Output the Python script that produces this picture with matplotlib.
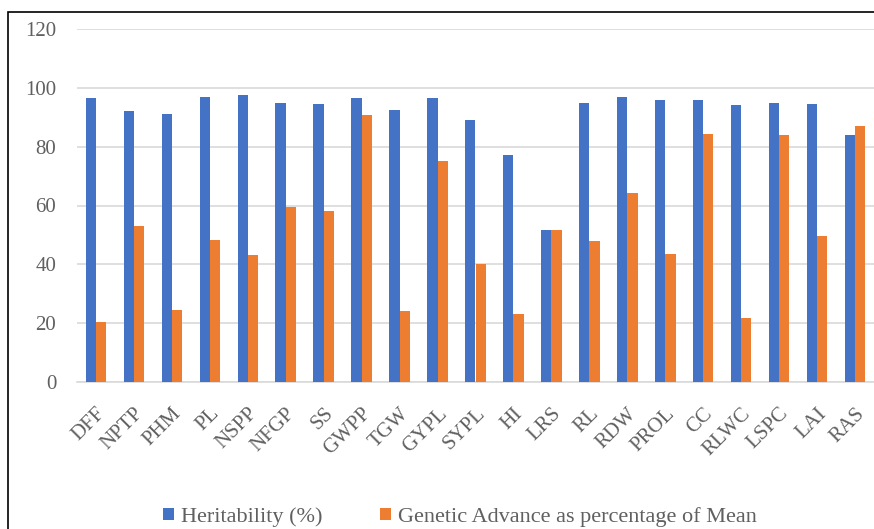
import matplotlib
matplotlib.use("Agg")
import matplotlib.pyplot as plt
import numpy as np
from matplotlib.patches import Rectangle

categories = ["DFF", "NPTP", "PHM", "PL", "NSPP", "NFGP", "SS", "GWPP", "TGW", "GYPL",
              "SYPL", "HI", "LRS", "RL", "RDW", "PROL", "CC", "RLWC", "LSPC", "LAI", "RAS"]
heritability = [96.5, 92, 91, 97, 97.5, 95, 94.5, 96.5, 92.5, 96.5,
                89, 77, 51.8, 95, 97, 96, 96, 94, 95, 94.5, 84]
genetic_advance = [20.4, 53, 24.5, 48.4, 43.3, 59.6, 58, 90.7, 24.2, 75,
                   40.2, 23.2, 51.8, 47.8, 64.4, 43.6, 84.2, 21.8, 83.9, 49.8, 87]
yticks = [0, 20, 40, 60, 80, 100, 120]

blue = "#4472C4"
orange = "#ED7D31"
serif = ["Liberation Serif", "DejaVu Serif"]
txt = "#606060"

W, H = 874, 529
fig = plt.figure(figsize=(W / 100, H / 100), dpi=100)
fig.patch.set_facecolor("white")

# outer frame
fig.add_artist(Rectangle((8 / W, -0.1), 1.2, 1 - 12 / H + 0.1, transform=fig.transFigure,
                         fill=False, edgecolor="black", linewidth=1.2))

ax = fig.add_axes([77 / W, 1 - 382 / H, (874 - 77) / W, (382 - 29) / H])
x = np.arange(len(categories))
bw = 0.27
ax.bar(x - bw / 2, heritability, bw, color=blue, label="Heritability (%)", zorder=3)
ax.bar(x + bw / 2, genetic_advance, bw, color=orange,
       label="Genetic Advance as percentage of Mean", zorder=3)

ax.set_xlim(-0.5, len(categories) - 0.5)
ax.set_ylim(0, 120)
ax.set_yticks(yticks)
ax.set_yticklabels([str(v) for v in yticks], family=serif, fontsize=15, color=txt)
ax.set_xticks(x)
ax.set_xticklabels(categories, rotation=45, ha="right", rotation_mode="anchor",
                   family=serif, fontsize=15, color=txt)
ax.tick_params(axis="y", length=0, pad=15)
ax.tick_params(axis="x", length=0, pad=16)
ax.grid(axis="y", color="#d9d9d9", linewidth=1.2, zorder=0)
for s in ["top", "right", "left"]:
    ax.spines[s].set_visible(False)
ax.spines["bottom"].set_color("#d9d9d9")
ax.spines["bottom"].set_linewidth(1.2)

leg = fig.legend(loc="center", bbox_to_anchor=(460 / W, 1 - 517 / H), ncol=2, frameon=False,
                 prop={"family": serif, "size": 16}, handlelength=0.5, handleheight=0.5,
                 handletextpad=0.3, columnspacing=2.6)
for t in leg.get_texts():
    t.set_color(txt)

fig.savefig("out.png", dpi=100)
